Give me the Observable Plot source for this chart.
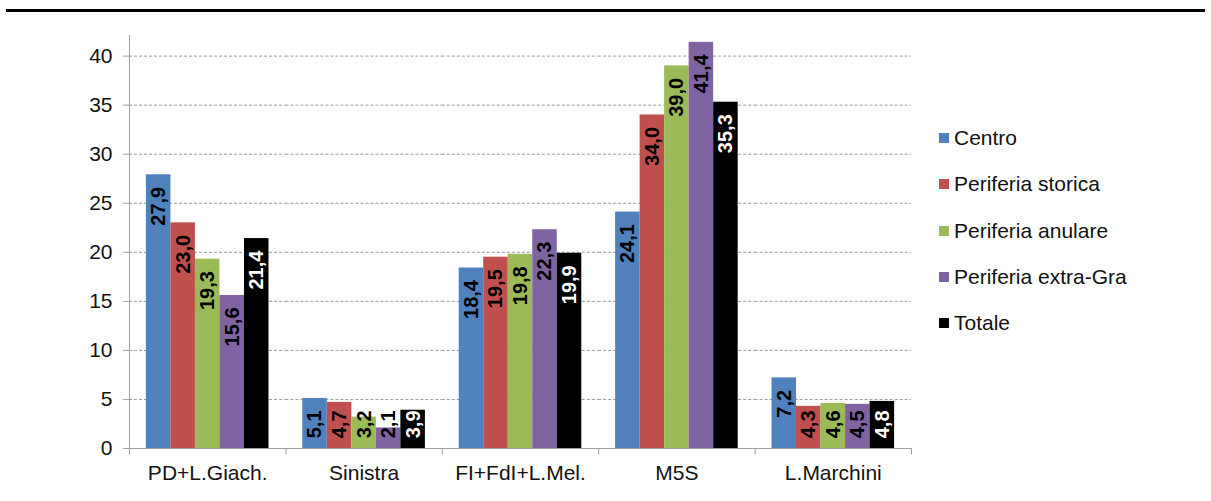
<!DOCTYPE html>
<html>
<head>
<meta charset="utf-8">
<script src="https://cdn.jsdelivr.net/npm/d3@7"></script>
<script src="https://cdn.jsdelivr.net/npm/@observablehq/plot@0.6"></script>
<style>
  html, body { margin: 0; padding: 0; background: #fff; }
  #wrap { position: relative; width: 1211px; height: 501px; overflow: hidden; font-family: "Liberation Sans", Arial, sans-serif; }
  #rule { position: absolute; left: 6px; top: 9px; width: 1199px; height: 3px; background: #000; }
  #chart { position: absolute; left: 0; top: 0; }
  .lg { position: absolute; left: 939px; height: 24px; display: flex; align-items: center; font-size: 21px; color: #111; white-space: nowrap; }
  .lg span.sw { display: inline-block; width: 10px; height: 10px; margin-right: 5px; }
</style>
</head>
<body>
<div id="wrap">
  <div id="rule"></div>
  <div id="chart"></div>
  <div id="legend"></div>
</div>
<script>
const categories = ["PD+L.Giach.", "Sinistra", "FI+FdI+L.Mel.", "M5S", "L.Marchini"];
const series = ["Centro", "Periferia storica", "Periferia anulare", "Periferia extra-Gra", "Totale"];
const centro = [27.9, 5.1, 18.4, 24.1, 7.2];
const periferiaStorica = [23.0, 4.7, 19.5, 34.0, 4.3];
const periferiaAnulare = [19.3, 3.2, 19.8, 39.0, 4.6];
const periferiaExtraGra = [15.6, 2.1, 22.3, 41.4, 4.5];
const totale = [21.4, 3.9, 19.9, 35.3, 4.8];
const colors = ["#4F81BD", "#C0504D", "#9BBB59", "#8064A2", "#000000"];
const yTicks = [0, 5, 10, 15, 20, 25, 30, 35, 40];

const valuesBySeries = [centro, periferiaStorica, periferiaAnulare, periferiaExtraGra, totale];
const rows = [];
categories.forEach((cat, i) => {
  series.forEach((s, j) => rows.push({cat, series: s, value: valuesBySeries[j][i]}));
});
const fmt = v => v.toFixed(1).replace(".", ",");

const plot = Plot.plot({
  width: 1211,
  height: 501,
  marginLeft: 129,
  marginRight: 300,
  marginTop: 35,
  marginBottom: 53,
  style: {fontFamily: "'Liberation Sans', Arial, sans-serif", fontSize: "21px", color: "#111", background: "transparent"},
  fx: {domain: categories, padding: 0, round: false, label: null},
  x: {domain: series, paddingInner: 0, paddingOuter: 0.69, round: false, axis: null},
  y: {domain: [0, 42.1], label: null},
  color: {domain: series, range: colors},
  marks: [
    Plot.gridY(yTicks, {stroke: "#9a9a9a", strokeOpacity: 1, strokeDasharray: "3,2"}),
    Plot.barY(rows, {fx: "cat", x: "series", y: "value", fill: "series"}),
    Plot.ruleY([0], {stroke: "#a0a0a0"}),
    Plot.axisY(yTicks, {tickSize: 6, tickPadding: 11, stroke: "#a0a0a0", fill: "#111", fontSize: 21, label: null}),
    Plot.axisFx({anchor: "bottom", tickSize: 0, tickPadding: 17, fill: "#111", fontSize: 21, label: null}),
    Plot.text(rows, {
      fx: "cat", x: "series",
      y: d => Math.max(d.value, 5.1),
      text: d => fmt(d.value),
      rotate: -90, textAnchor: "end", dy: 12,
      fill: d => d.series === "Totale" ? "#fff" : "#000",
      fontWeight: "bold", fontSize: 20
    })
  ]
});
document.getElementById("chart").appendChild(plot);

// y axis line and category boundary ticks, from Plot's scales
const fxs = plot.scale("fx");
const ys = plot.scale("y");
const g = d3.select(plot).append("g").attr("stroke", "#a0a0a0").attr("stroke-width", 1);
const y0 = ys.apply(0);
const yTop = ys.apply(ys.domain[1]);
const x0 = fxs.apply(categories[0]);
g.append("line").attr("x1", x0 + 0.5).attr("x2", x0 + 0.5).attr("y1", yTop).attr("y2", y0 + 0.5);
const edges = categories.map(c => fxs.apply(c));
edges.push(fxs.apply(categories[categories.length - 1]) + fxs.bandwidth);
edges.forEach(x => {
  g.append("line").attr("x1", x + 0.5).attr("x2", x + 0.5).attr("y1", y0).attr("y2", y0 + 6.5);
});

// legend
const legendCenters = [138, 184, 230.5, 277, 323];
const legend = document.getElementById("legend");
series.forEach((s, i) => {
  const row = document.createElement("div");
  row.className = "lg";
  row.style.top = (legendCenters[i] - 12) + "px";
  row.innerHTML = `<span class="sw" style="background:${colors[i]}"></span>${s}`;
  legend.appendChild(row);
});
</script>
</body>
</html>
